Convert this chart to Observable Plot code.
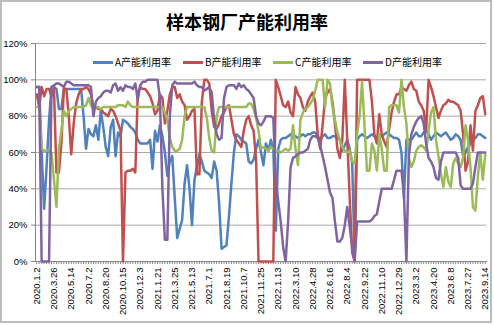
<!DOCTYPE html>
<html><head><meta charset="utf-8">
<script src="https://cdn.jsdelivr.net/npm/d3@7"></script>
<script src="https://cdn.jsdelivr.net/npm/@observablehq/plot@0.6"></script>
<style>
body{margin:0;background:#fff;}
#wrap{position:relative;width:494px;height:325px;overflow:hidden;font-family:"Liberation Sans",Arial,sans-serif;}
#frame{position:absolute;left:0;top:0;width:488px;height:319px;border:2px solid #bcbcbc;pointer-events:none;}
#title{position:absolute;left:0;width:494px;top:11px;text-align:center;font:bold 18px/20px "Noto Sans CJK SC",sans-serif;color:#000;}
#legend{position:absolute;top:56px;left:93px;display:flex;font:10px/12px "Noto Sans CJK SC",sans-serif;color:#000;}
.item{display:flex;align-items:center;width:90px;white-space:nowrap;}
.sw{width:20px;height:3px;margin-right:2px;}
#chart{position:absolute;left:0;top:0;}
</style>
</head><body>
<div id="wrap"><div id="chart"></div><div id="title"></div><div id="legend"></div><div id="frame"></div></div>
<script>
const title = "样本钢厂产能利用率";
const seriesNames = ["A产能利用率","B产能利用率","C产能利用率","D产能利用率"];
const seriesColors = ["#4F81BD","#C0504D","#9BBB59","#8064A2"];
const tickLabels = ["2020.1.2","2020.3.26","2020.5.14","2020.7.2","2020.8.20","2020.10.15","2020.12.3","2021.1.21","2021.3.25","2021.5.13","2021.7.1","2021.8.19","2021.10.7","2021.11.25","2022.1.13","2022.3.10","2022.4.28","2022.6.16","2022.8.4","2022.9.22","2022.11.10","2022.12.29","2023.3.2","2023.4.20","2023.6.8","2023.7.27","2023.9.14"];
const yTicks = [0,20,40,60,80,100,120];

const A = [96,96,60,29,52,78,96,96,95,84,
84,95,95,95,95,95,95,95,95,80,
62,73,70,69,75,67,83,74,63,58,
74,78,58,71,69,78,77,76,74,73,
71,67,65,65,65,65,67,51,72,66,
75,69,60,47,55,58,35,13,18,23,
43,53,40,20,45,52,59,55,50,49,
48,46,55,50,32,7,8,9,25,43,
60,70,69,67,66,65,55,54,56,62,
67,60,53,65,61,67,62,17,62,67,
68,68,69,70,68,69,68,69,70,69,
70,70,71,71,69,67,69,70,68,68,
69,69,68,67,61,64,67,62,54,3,
67,69,70,69,68,69,70,69,68,70,
69,70,71,70,69,68,68,67,60,35,
67,67,67,69,71,69,69,71,72,70,
67,69,71,70,69,70,71,69,67,68,
70,69,67,58,60,63,65,67,68,70,
70,69,68];

const B = [92,85,96,91,95,95,91,95,49,49,
65,95,95,80,59,76,87,92,95,95,
96,95,92,85,85,84,84,82,81,80,
84,83,80,76,72,0,49,50,50,51,
49,93,96,95,95,93,91,87,81,83,
92,90,76,83,92,96,96,90,92,88,
86,78,80,83,84,48,48,88,100,100,
98,83,74,73,76,80,82,85,86,78,
70,67,65,63,72,78,80,75,72,56,
0,0,0,0,0,0,0,100,96,91,
86,85,88,82,80,96,92,90,85,83,
88,91,93,88,70,62,75,90,93,95,
88,76,62,57,67,100,67,35,5,0,
100,100,100,100,100,100,88,70,65,81,
70,66,63,73,82,88,92,92,96,95,
94,97,99,95,94,88,86,83,72,100,
96,91,85,79,83,86,87,89,88,88,
87,86,83,70,50,55,75,61,83,86,
90,91,81];

const C = [85,85,62,61,61,61,60,45,30,62,
72,83,80,83,84,85,85,85,85,85,
86,90,86,84,85,85,84,85,85,85,
85,85,85,86,86,86,85,88,86,85,
85,85,85,85,85,85,85,85,85,85,
85,85,82,78,68,63,61,61,62,67,
80,85,85,85,85,85,85,85,85,79,
68,61,60,80,85,85,85,85,85,85,
85,85,85,85,85,85,87,87,84,79,
72,62,63,62,61,63,62,61,61,60,
61,62,61,62,75,62,53,78,82,84,
85,87,89,94,100,100,100,85,100,98,
85,78,71,67,63,61,60,61,55,54,
70,80,99,75,50,50,65,61,50,70,
62,50,50,85,86,86,86,82,100,85,
76,57,52,55,61,63,64,63,61,72,
82,85,67,58,48,41,52,44,41,54,
57,54,52,57,75,67,52,30,28,47,
60,45,59];

const D = [96,96,0,0,0,0,96,97,98,98,
97,96,99,99,98,97,97,97,97,97,
97,97,96,80,88,90,91,93,94,94,
93,97,98,94,96,94,97,96,96,95,
98,89,97,99,99,100,100,100,100,100,
90,40,12,12,80,97,99,98,98,98,
98,98,98,98,99,97,96,96,94,95,
96,93,78,70,67,68,90,96,97,97,
97,95,98,96,97,95,94,92,90,80,
76,75,77,80,80,80,79,45,33,22,
8,0,22,52,57,58,59,60,60,61,
62,67,69,69,68,64,58,52,45,38,
35,22,11,11,13,20,30,19,8,0,
22,22,22,22,22,22,23,25,26,33,
40,40,40,40,40,45,50,50,50,37,
0,58,70,74,77,79,80,76,65,57,
55,52,46,45,55,60,60,60,60,60,
60,57,42,40,40,40,40,43,52,60,
60,60,60];

const seriesValues = [A,B,C,D];
const n = A.length;
const idx = d3.range(n);
const labelIdx = tickLabels.map((_, k) => k * 7);
const rows = seriesNames.flatMap((name, s) => seriesValues[s].map((v, i) => ({i, v, name})));

const chart = Plot.plot({
  width: 494, height: 325,
  marginLeft: 35, marginRight: 8, marginTop: 43, marginBottom: 64,
  x: {type: "linear", domain: [-0.5, n - 0.5], label: null},
  y: {domain: [0, 120], label: null},
  color: {domain: seriesNames, range: seriesColors},
  style: {fontFamily: "'Liberation Sans', Arial, sans-serif", fontSize: "9.5px", color: "#000", background: "transparent"},
  marks: [
    Plot.gridY(yTicks, {stroke: "#a9a9a9", strokeOpacity: 1}),
    Plot.frame({anchor: "left", stroke: "#868686"}),
    Plot.frame({anchor: "bottom", stroke: "#868686"}),
    Plot.axisY(yTicks, {tickFormat: d => d + "%", tickSize: 4, tickPadding: 4, stroke: "#868686", fill: "#000", label: null}),
    Plot.axisX(idx, {tickSize: 3, tickFormat: () => "", stroke: "#868686", label: null}),
    Plot.axisX(labelIdx, {tickSize: 0, tickRotate: -90, tickPadding: 6, tickFormat: i => tickLabels[i / 7], fill: "#000", label: null}),
    Plot.lineY(rows, {x: "i", y: "v", z: "name", stroke: "name", strokeWidth: 2.5, strokeLinejoin: "round"})
  ]
});
document.getElementById("chart").appendChild(chart);
document.getElementById("title").textContent = title;
const lg = document.getElementById("legend");
seriesNames.forEach((nm, k) => {
  const it = document.createElement("div"); it.className = "item";
  const sw = document.createElement("div"); sw.className = "sw"; sw.style.background = seriesColors[k];
  const tx = document.createElement("span"); tx.textContent = nm;
  it.appendChild(sw); it.appendChild(tx); lg.appendChild(it);
});
</script>
</body></html>
